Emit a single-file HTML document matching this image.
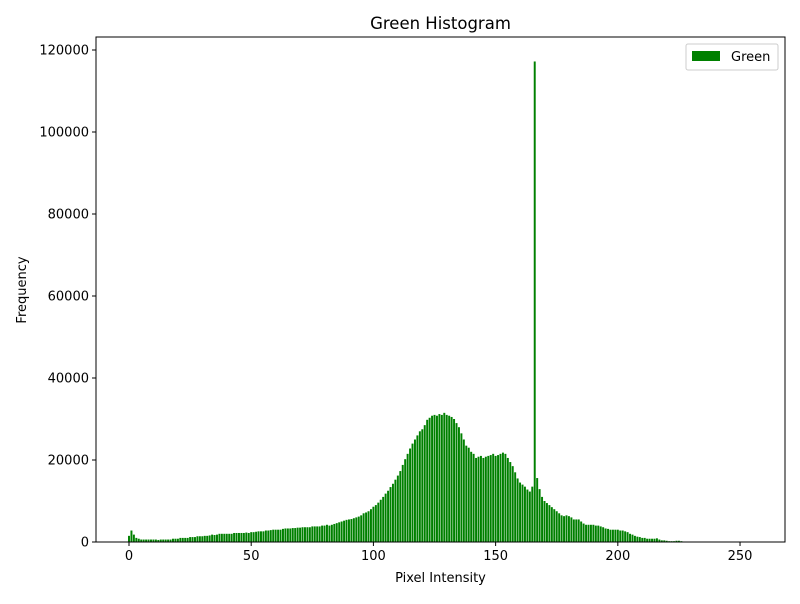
<!DOCTYPE html>
<html><head><meta charset="utf-8"><style>
body{margin:0;background:#fff;font-family:"DejaVu Sans","Liberation Sans",sans-serif;}
</style></head><body>
<svg id="chart" width="800" height="600" xmlns="http://www.w3.org/2000/svg" font-family="DejaVu Sans, Liberation Sans, sans-serif">
<rect width="800" height="600" fill="#fff"/>
<text x="440.5" y="29" font-size="16.5" text-anchor="middle">Green Histogram</text>
<g id="bars"></g>
<rect x="96" y="37" width="689" height="505" fill="none" stroke="#000" stroke-width="1"/>
<g id="xticks"></g>
<g id="yticks"></g>
<text x="440.5" y="582" font-size="13" text-anchor="middle">Pixel Intensity</text>
<text transform="translate(26,290) rotate(-90)" font-size="13" text-anchor="middle">Frequency</text>
<g>
<rect x="686" y="44" width="92" height="26" rx="2" fill="#fff" stroke="#ccc"/>
<rect x="692" y="51" width="28" height="10" fill="#008000"/>
<text x="731" y="61" font-size="13">Green</text>
</g>
</svg>
<script>
const categories = Array.from({length:256},(_, i)=>i);
const valuesK = [
1.5,2.8,1.8,1.0,0.8,0.6,0.6,0.6,0.6,0.6,
0.6,0.6,0.5,0.6,0.6,0.6,0.6,0.6,0.8,0.8,
0.8,1.0,1.0,1.0,1.0,1.2,1.2,1.2,1.4,1.4,
1.4,1.5,1.5,1.6,1.8,1.7,1.8,2.0,2.0,2.0,
2.0,2.0,2.0,2.2,2.2,2.2,2.2,2.2,2.3,2.2,
2.4,2.4,2.5,2.6,2.6,2.6,2.8,2.8,2.9,3.0,
3.0,3.0,3.0,3.2,3.3,3.3,3.3,3.4,3.4,3.5,
3.5,3.6,3.6,3.6,3.6,3.8,3.8,3.8,3.8,4.0,
4.0,4.2,4.0,4.2,4.4,4.6,4.8,5.0,5.2,5.4,
5.5,5.6,5.8,6.0,6.2,6.5,7.0,7.2,7.5,8.0,
8.6,9.0,9.6,10.3,11.0,11.8,12.5,13.4,14.2,15.2,
16.2,17.3,18.8,20.2,21.5,22.8,24.0,25.0,26.0,27.0,
27.5,28.5,29.8,30.3,30.8,31.0,30.8,31.2,31.0,31.5,
31.0,30.8,30.5,30.0,29.0,28.0,26.5,25.0,23.5,23.0,
22.0,21.5,20.5,20.8,21.0,20.5,20.8,21.0,21.2,21.5,
21.0,21.2,21.5,21.8,21.5,20.5,19.5,18.5,17.0,15.5,
14.5,14.0,13.5,12.8,12.3,13.5,117.2,15.6,12.9,11.0,
10.0,9.5,9.0,8.5,8.0,7.5,7.0,6.5,6.3,6.5,
6.3,6.0,5.5,5.5,5.5,5.0,4.5,4.2,4.2,4.2,
4.2,4.0,4.0,3.8,3.6,3.3,3.2,3.0,3.0,3.0,
3.0,2.8,2.8,2.6,2.4,2.0,1.8,1.5,1.3,1.2,
1.0,1.0,0.8,0.8,0.8,0.8,0.9,0.6,0.4,0.4,
0.3,0.2,0.2,0.2,0.3,0.3,0.2,0.1,0.1,0.05,
0.05,0.05,0.04,0.03,0.03,0.02,0.02,0.02,0.01,0.01,
0.01,0.01,0.01,0,0,0,0,0,0,0,
0,0,0,0,0,0];
const xTickLabels = [0,50,100,150,200,250];
const yTickLabels = [0,20000,40000,60000,80000,100000,120000];

const NS="http://www.w3.org/2000/svg";
const X0=96,X1=785,Y0=542,Y1=37;
const xmin=-13.5,xmax=268.4,ymin=0,ymax=123171;
const xs=v=>X0+(v-xmin)/(xmax-xmin)*(X1-X0);
const ys=v=>Y0-(v-ymin)/(ymax-ymin)*(Y0-Y1);
const mk=(t,a)=>{const e=document.createElementNS(NS,t);for(const k in a)e.setAttribute(k,a[k]);return e;};

const bars=document.getElementById('bars');
categories.forEach((c,i)=>{
  const v=valuesK[i]*1000;
  const r=mk('rect',{x:xs(c-0.4),y:ys(v),width:xs(c+0.4)-xs(c-0.4),height:Y0-ys(v),fill:'#008000'});
  
  
  bars.appendChild(r);
});
const xt=document.getElementById('xticks');
xTickLabels.forEach(t=>{
  const x=xs(t);
  const l=mk('line',{x1:x,x2:x,y1:Y0,y2:Y0+4,stroke:'#000'});
  
  
  xt.appendChild(l);
  const tx=mk('text',{x:x,y:Y0+18,'font-size':13,'text-anchor':'middle'});
  
  
  tx.textContent=t;xt.appendChild(tx);
});
const yt=document.getElementById('yticks');
yTickLabels.forEach(t=>{
  const y=ys(t);
  const l=mk('line',{x1:X0-4,x2:X0,y1:y,y2:y,stroke:'#000'});
  
  
  yt.appendChild(l);
  const tx=mk('text',{x:X0-7,y:y+4.5,'font-size':13,'text-anchor':'end'});
  
  
  tx.textContent=t;yt.appendChild(tx);
});
</script>
</body></html>
